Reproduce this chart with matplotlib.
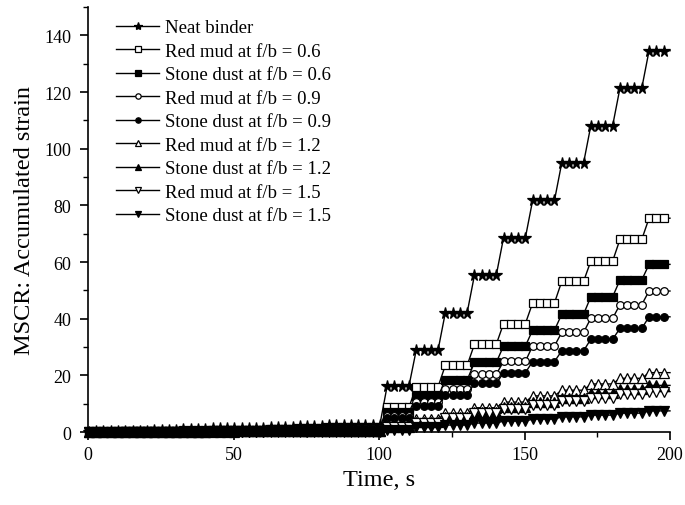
import numpy as np
import matplotlib
matplotlib.use("Agg")
import matplotlib.pyplot as plt
from matplotlib.ticker import MultipleLocator

plt.rcParams['font.family'] = ['Liberation Serif', 'DejaVu Serif']

# accumulated strain at the end of each 10 s creep/recovery cycle
# (cycles 1-10 at 0.1 kPa, cycles 11-20 at 3.2 kPa)
neat = [0.25, 0.5, 0.8, 1.05, 1.3, 1.6, 1.85, 2.1, 2.4, 2.65,
        16.3, 29.0, 42.2, 55.4, 68.6, 81.8, 95.0, 108.2, 121.4, 134.6]
rm_06 = [0.15, 0.3, 0.45, 0.6, 0.75, 0.9, 1.05, 1.2, 1.35, 1.5,
         8.8, 16.0, 23.6, 31.0, 38.3, 45.6, 53.2, 60.4, 68.0, 75.5]
sd_06 = [0.12, 0.24, 0.36, 0.48, 0.6, 0.72, 0.84, 0.96, 1.08, 1.2,
         7.0, 12.6, 18.4, 24.6, 30.4, 36.0, 41.6, 47.8, 53.7, 59.2]
rm_09 = [0.1, 0.2, 0.3, 0.4, 0.5, 0.6, 0.7, 0.8, 0.9, 1.0,
         5.7, 10.5, 15.2, 20.4, 25.0, 30.4, 35.2, 40.2, 45.0, 49.8]
sd_09 = [0.08, 0.16, 0.24, 0.32, 0.4, 0.48, 0.56, 0.64, 0.72, 0.8,
         5.0, 9.3, 13.2, 17.2, 21.0, 24.9, 28.7, 32.8, 36.6, 40.7]
rm_12 = [0.05, 0.1, 0.15, 0.2, 0.25, 0.3, 0.35, 0.4, 0.45, 0.5,
         2.6, 4.6, 6.6, 8.6, 10.6, 12.8, 14.8, 17.0, 19.0, 21.0]
sd_12 = [0.04, 0.08, 0.12, 0.16, 0.2, 0.24, 0.28, 0.32, 0.36, 0.4,
         1.9, 3.7, 5.5, 7.2, 8.9, 10.6, 12.2, 13.7, 15.1, 16.5]
rm_15 = [0.035, 0.07, 0.1, 0.14, 0.17, 0.21, 0.24, 0.28, 0.31, 0.35,
         1.8, 3.4, 5.0, 6.6, 8.2, 9.7, 11.0, 12.2, 13.3, 14.3]
sd_15 = [0.02, 0.04, 0.06, 0.08, 0.1, 0.12, 0.14, 0.16, 0.18, 0.2,
         0.9, 1.7, 2.5, 3.2, 3.9, 4.6, 5.4, 6.0, 6.7, 7.5]

labels = ["Neat binder",
          "Red mud at f/b = 0.6", "Stone dust at f/b = 0.6",
          "Red mud at f/b = 0.9", "Stone dust at f/b = 0.9",
          "Red mud at f/b = 1.2", "Stone dust at f/b = 1.2",
          "Red mud at f/b = 1.5", "Stone dust at f/b = 1.5"]

cycle_len = 10.0
sample_offsets = [0.3, 2.8, 5.3, 7.8]
t_end = 200.0


def staircase(levels):
    # one sample right after loading starts, then three on the plateau
    t, y = [0.0], [0.0]
    prev = 0.0
    for i, lvl in enumerate(levels):
        c = i * cycle_len
        for k, off in enumerate(sample_offsets):
            t.append(c + off)
            y.append(prev if k == 0 else lvl)
        prev = lvl
    t.append(t_end)
    y.append(prev)
    return np.array(t), np.array(y)


styles = [('*', 'k', 8.5), ('s', 'w', 5.5), ('s', 'k', 5.5), ('o', 'w', 5.5),
          ('o', 'k', 5.5), ('^', 'w', 6.5), ('^', 'k', 6.5), ('v', 'w', 6.5),
          ('v', 'k', 6.5)]
series = [neat, rm_06, sd_06, rm_09, sd_09, rm_12, sd_12, rm_15, sd_15]

fig = plt.figure(figsize=(6.85, 5.06), dpi=100)
ax = fig.add_axes([0.1285, 0.144, 0.8496, 0.840])

for data, lab, (mk, fc, ms) in zip(series, labels, styles):
    t, y = staircase(data)
    ax.plot(t, y, '-', color='k', lw=1.0, marker=mk, mfc=fc, mec='k',
            mew=0.9, ms=ms, markevery=slice(1, -1), label=lab, clip_on=False)

ax.set_xlim(0, 200)
ax.set_ylim(0, 150)
ax.xaxis.set_major_locator(MultipleLocator(50))
ax.xaxis.set_minor_locator(MultipleLocator(25))
ax.yaxis.set_major_locator(MultipleLocator(20))
ax.yaxis.set_minor_locator(MultipleLocator(10))
ax.spines['top'].set_visible(False)
ax.spines['right'].set_visible(False)
for s in ['left', 'bottom']:
    ax.spines[s].set_linewidth(1.2)
ax.tick_params(which='major', direction='out', length=6, width=1.2,
               labelsize=13, pad=4)
ax.tick_params(axis='y', which='major', pad=6)
ax.tick_params(which='minor', direction='out', length=3.5, width=1.0)

ax.set_xlabel("Time, s", fontsize=17.5, labelpad=4)
ax.set_ylabel("MSCR: Accumulated strain", fontsize=17.5, labelpad=7)

leg = ax.legend(loc='upper left', bbox_to_anchor=(0.048, 0.972), frameon=False,
                fontsize=13.5, handlelength=2.3, handletextpad=0.3,
                labelspacing=0.34, borderpad=0, borderaxespad=0, markerscale=0.7)

fig.savefig('out.png', dpi=100)
